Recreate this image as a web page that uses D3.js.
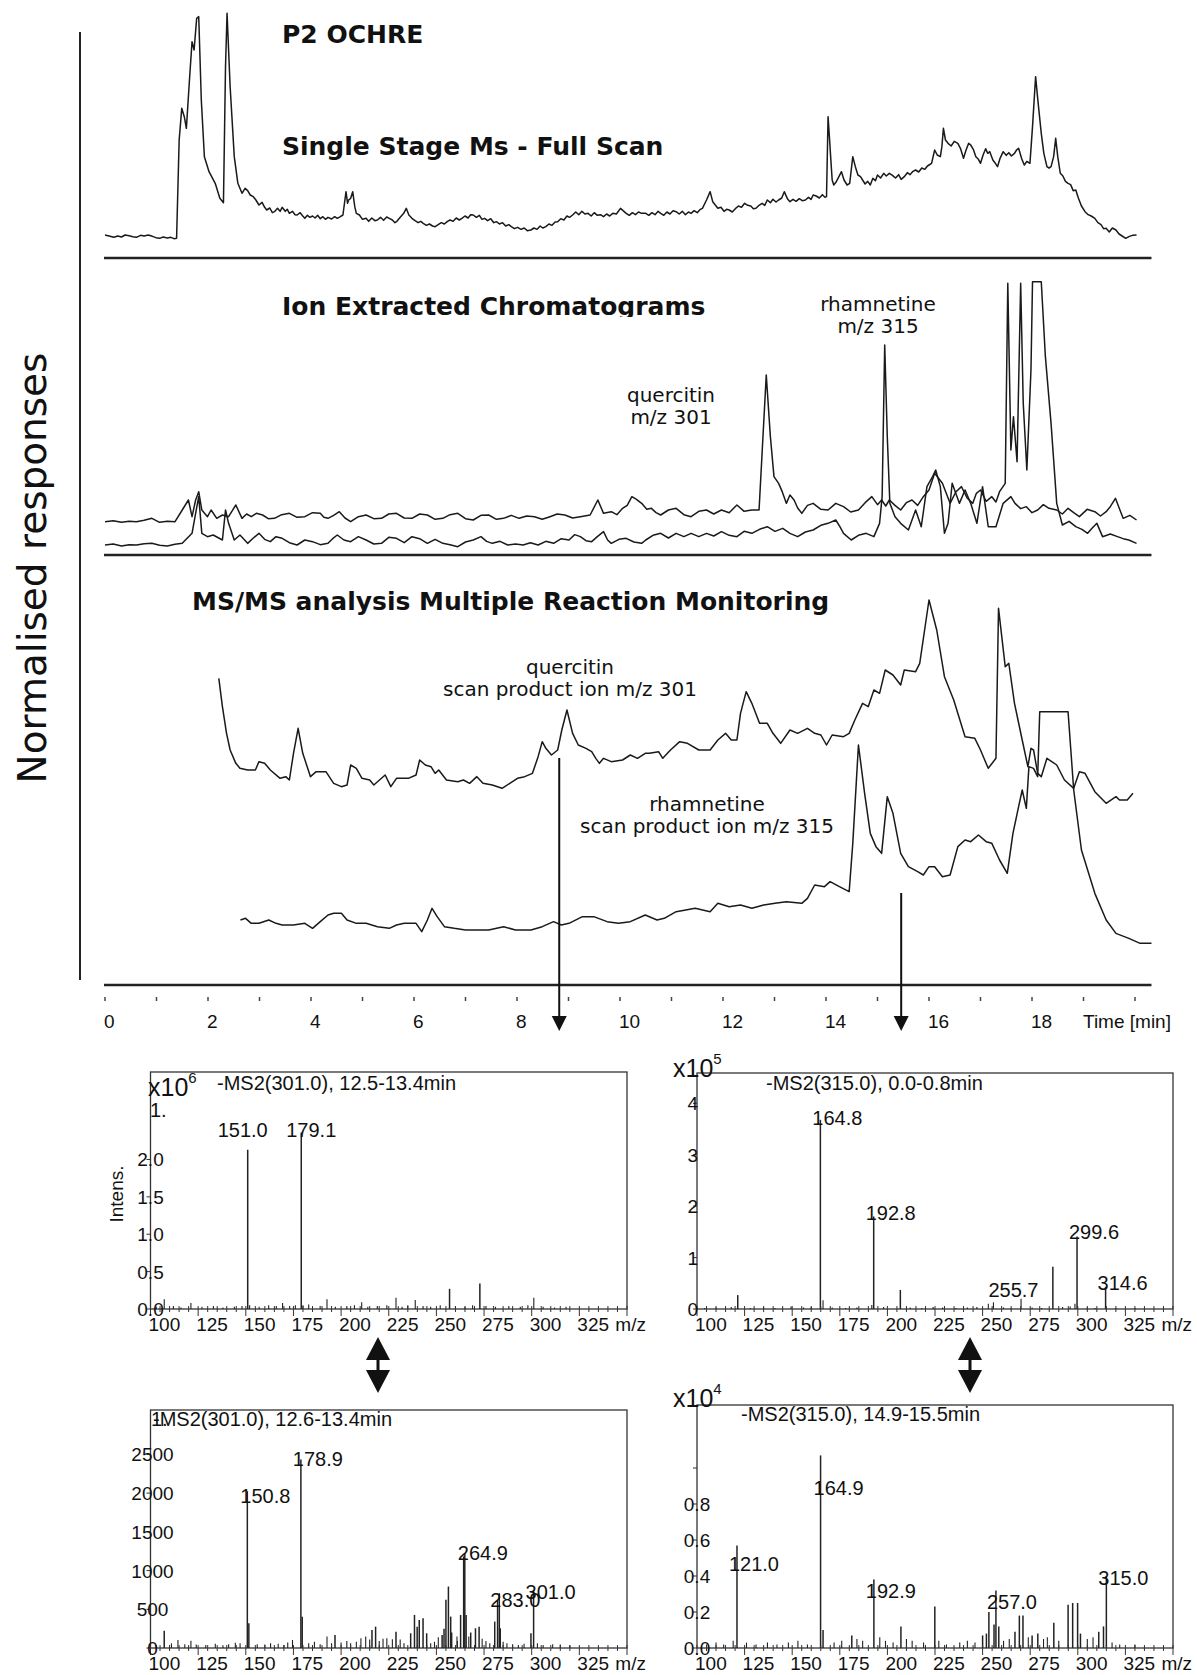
<!DOCTYPE html>
<html>
<head>
<meta charset="utf-8">
<script src="https://d3js.org/d3.v7.min.js"></script>
<style>
  body { margin: 0; background: #fff; }
  text { fill: #111; }
  .ttl { font-family: "DejaVu Sans", Verdana, sans-serif; font-weight: bold; font-size: 25px; }
  .ann { font-family: "DejaVu Sans", Verdana, sans-serif; font-size: 20px; }
  .big { font-family: "DejaVu Sans", Verdana, sans-serif; font-size: 39px; }
  .sp  { font-family: "Liberation Sans", Arial, sans-serif; font-size: 20px; }
  .ax  { font-family: "Liberation Sans", Arial, sans-serif; font-size: 19px; }
</style>
</head>
<body>
<script>
// ---- chromatograms: [time (min), normalised response] ----
const fullScan = [[0.0,7.5],[0.08,7.2],[0.17,6.8],[0.25,7.2],[0.32,6.9],[0.39,7.5],[0.47,7.3],[0.54,7.0],
  [0.61,6.8],[0.69,7.4],[0.76,7.2],[0.84,7.5],[0.92,7.1],[0.99,6.7],[1.06,6.5],[1.13,6.9],[1.21,6.6],
  [1.28,6.8],[1.34,6.4],[1.39,6.5],
  [1.44,36],[1.49,45.5],[1.54,43],[1.58,39.5],[1.64,54],[1.69,65.5],[1.73,63],[1.78,72.5],[1.82,73],
  [1.87,48],[1.93,31],[2.02,26.5],[2.14,23],[2.23,18.5],[2.30,17.2],[2.34,58],[2.37,74],[2.43,52],
  [2.51,31],[2.58,23],[2.66,20],[2.72,21.5],[2.77,20.8],[2.82,19.5],[2.88,19],[2.93,18],[2.99,16.5],
  [3.05,17.3],[3.10,15.8],[3.14,15],[3.20,15.6],[3.25,14.2],[3.29,14.5],[3.35,15.5],[3.40,14.6],
  [3.44,15.8],[3.50,14.6],[3.54,15.2],[3.58,14],[3.64,14.6],[3.69,13.6],[3.73,13.5],[3.79,14.2],
  [3.84,13.2],[3.88,12.5],[3.93,13.4],[3.98,12.8],[4.03,13.2],[4.08,12.6],[4.13,13.4],[4.18,12.4],
  [4.23,13],[4.28,12.2],[4.33,12.8],[4.40,12.3],[4.46,13],[4.51,12.5],[4.57,13],[4.62,13.5],[4.68,20.5],
  [4.71,17],[4.73,18],[4.77,18.5],[4.81,20.5],[4.85,16],[4.88,14],[4.94,13.5],[5.00,12.2],[5.07,12.5],
  [5.12,11.6],[5.18,12.6],[5.24,11.8],[5.29,12],[5.35,12.8],[5.41,11.9],[5.47,12.9],[5.52,12.5],
  [5.58,12],[5.63,11.2],[5.66,11.5],[5.72,12.6],[5.80,14],[5.85,15.5],[5.90,13.5],[5.96,12.5],
  [6.02,11.8],[6.08,11.2],[6.13,11.6],[6.18,11],[6.24,10.4],[6.30,10.8],[6.36,10.2],[6.41,10],
  [6.47,10.6],[6.53,11.2],[6.59,10.8],[6.65,11.6],[6.70,12],[6.76,11.6],[6.82,12.6],[6.88,12],
  [6.93,12.5],[6.99,13.2],[7.05,12.6],[7.10,13.6],[7.15,13.5],[7.21,12.8],[7.27,13.4],[7.32,12.2],
  [7.37,12.5],[7.43,11.8],[7.49,12.4],[7.55,11.2],[7.60,11.5],[7.66,10.8],[7.72,11.2],[7.78,10.2],
  [7.84,10.6],[7.89,10],[7.95,9.4],[8.01,9.8],[8.08,9.2],[8.14,9.6],[8.20,8.8],[8.27,9],[8.33,9.6],
  [8.39,9.2],[8.45,10.2],[8.50,9.6],[8.56,10],[8.62,10.8],[8.68,10.4],[8.74,11.4],[8.79,11.5],
  [8.85,12.4],[8.91,12],[8.97,13.2],[9.02,12.8],[9.08,13.5],[9.14,14.4],[9.20,13.6],[9.26,14.6],
  [9.32,13.8],[9.38,14],[9.44,13.2],[9.50,14.2],[9.56,13.4],[9.62,13.6],[9.68,13],[9.74,13.8],
  [9.80,13.2],[9.86,14],[9.93,13.8],[10.01,15.5],[10.06,14.8],[10.12,14],[10.18,13.4],[10.24,14.2],
  [10.30,13.6],[10.36,14.4],[10.42,14],[10.50,14],[10.56,13.4],[10.62,14.2],[10.68,13.6],[10.74,14.6],
  [10.79,14],[10.85,13.4],[10.91,14.4],[10.97,13.8],[11.03,14.8],[11.09,14.5],[11.15,13.8],[11.21,14.6],
  [11.27,13.6],[11.33,14.4],[11.38,14],[11.44,14.8],[11.50,14.2],[11.56,15.2],[11.60,15.5],[11.68,18],
  [11.75,20.5],[11.80,17.5],[11.85,16.5],[11.90,15.5],[11.96,15.8],[12.02,14.6],[12.07,15.2],[12.12,15],
  [12.18,14.4],[12.24,15.4],[12.30,16.2],[12.36,15.8],[12.42,17],[12.48,16.4],[12.54,16.2],[12.59,15.4],
  [12.64,15.5],[12.70,16.4],[12.76,17],[12.81,16.4],[12.86,18],[12.92,17.2],[12.97,18.2],[13.03,17.4],
  [13.08,18],[13.14,18.6],[13.19,20.5],[13.25,18.4],[13.30,17.5],[13.36,18.2],[13.42,17.6],[13.48,18.4],
  [13.54,17.8],[13.60,18],[13.66,18.8],[13.71,18.2],[13.75,19.5],[13.81,19.2],[13.87,18.6],[13.93,19.6],
  [13.98,18.8],[14.01,19],[14.04,43],[14.07,36],[14.09,31],[14.12,24],[14.15,22.5],[14.20,23.5],
  [14.25,25],[14.30,26.5],[14.35,24],[14.41,22.5],[14.46,23],[14.52,31],[14.57,28],[14.62,25.5],
  [14.67,25],[14.71,24],[14.76,22.8],[14.81,23.6],[14.86,22.5],[14.91,24.5],[14.96,23.8],[15.00,25.5],
  [15.06,24.6],[15.12,26],[15.17,25.2],[15.23,26],[15.29,25.4],[15.35,24.6],[15.41,25.6],[15.46,24.2],
  [15.52,25],[15.58,26.2],[15.63,25.6],[15.69,26.6],[15.74,27],[15.80,26.4],[15.86,27.6],[15.92,27.2],
  [15.97,28.2],[16.00,28.5],[16.05,29],[16.11,33],[16.16,31.5],[16.22,31],[16.25,34],[16.28,39.5],
  [16.32,36],[16.37,35],[16.43,34.2],[16.49,35.6],[16.56,35],[16.61,33.5],[16.67,30.5],[16.72,33],
  [16.77,35],[16.81,34.5],[16.86,33.2],[16.91,31],[16.96,30.2],[17.00,29],[17.05,31.5],[17.10,33.4],
  [17.14,32],[17.18,32.5],[17.24,30],[17.28,29.2],[17.33,28],[17.38,30.5],[17.44,32.5],[17.50,31.4],
  [17.55,32.2],[17.60,31.2],[17.66,32],[17.70,33],[17.74,33.5],[17.80,30.4],[17.85,28.5],[17.90,29.6],
  [17.96,29],[18.01,40],[18.07,55],[18.12,47],[18.18,38],[18.23,32],[18.29,28],[18.33,27.6],[18.37,28],
  [18.42,31],[18.46,36.5],[18.50,31],[18.55,26],[18.60,25.2],[18.65,23.6],[18.70,23],[18.75,22.6],
  [18.80,20.8],[18.85,21],[18.90,18.6],[18.96,16.2],[19.03,14.5],[19.09,13.6],[19.15,13.2],[19.22,12.5],
  [19.28,11.2],[19.34,10.6],[19.39,9.4],[19.44,9.5],[19.50,8.4],[19.56,9.6],[19.63,9],[19.69,7.8],
  [19.75,7.2],[19.82,6.5],[19.88,7],[19.95,7.4],[20.03,7.5]];

const eicQuercitin = [[0.0,11.5],[0.16,11.8],[0.32,11.3],[0.47,11.6],[0.61,11.5],[0.76,11.9],[0.91,12.5],
  [1.06,11.3],[1.21,11.6],[1.36,11.5],[1.50,15],[1.62,18],[1.69,13],[1.76,18],[1.82,20.5],[1.88,15],
  [1.99,13],[2.06,15],[2.17,12.5],[2.28,13.5],[2.40,13],[2.54,16.5],[2.66,12.5],[2.75,13.8],[2.84,13],
  [2.94,14],[3.06,13.5],[3.17,12.4],[3.29,12.5],[3.43,13.6],[3.58,14],[3.73,12.8],[3.88,13],[4.03,14.2],
  [4.18,14],[4.25,12.8],[4.33,12.5],[4.44,13.4],[4.55,14.5],[4.66,12.6],[4.77,11.5],[4.92,13],[5.07,13.5],
  [5.22,12.4],[5.37,12.5],[5.51,13.8],[5.66,14],[5.81,12.6],[5.96,12.5],[6.11,13.8],[6.26,13.5],
  [6.41,12.2],[6.56,12.5],[6.70,13.6],[6.85,14],[7.00,12.4],[7.15,12],[7.30,13.4],[7.45,13.5],[7.60,12.2],
  [7.74,12.5],[7.89,13.4],[8.04,12.5],[8.19,13.2],[8.34,13],[8.49,12.2],[8.64,13],[8.78,13.8],[8.93,13.5],
  [9.08,12.6],[9.23,13],[9.42,13.5],[9.57,18],[9.68,14],[9.83,14.5],[9.94,13.6],[10.05,15.5],[10.14,16.4],
  [10.23,19],[10.32,18.2],[10.42,17],[10.52,15.2],[10.61,15.5],[10.70,14.2],[10.79,13.5],[10.94,15],
  [11.09,15.5],[11.24,13.6],[11.38,13],[11.53,14.6],[11.68,15],[11.82,13.8],[11.97,15],[12.12,14.2],
  [12.27,16.5],[12.41,14.6],[12.56,15],[12.70,15],
  [12.84,55.5],[12.92,37],[12.99,25],[13.08,23],[13.15,20.5],[13.23,17],[13.30,19.5],[13.38,18],
  [13.45,15.6],[13.53,14],[13.64,16.4],[13.75,17],[13.90,15.2],[14.04,15],[14.19,17],[14.34,16],
  [14.48,14.4],[14.63,15],[14.76,17.2],[14.89,19],[15.00,16.6],[15.08,18],[15.16,16.2],[15.23,18],
  [15.34,16.4],[15.45,15],[15.56,17.2],[15.67,18],[15.78,16.4],[15.89,19],[16.00,21],[16.11,26],
  [16.26,23],[16.41,17],[16.52,20.4],[16.63,22],[16.74,18.6],[16.85,17],[16.92,20],[17.00,21],
  [17.11,17.6],[17.22,19],[17.30,17.4],[17.37,20.5],[17.48,23],[17.53,83],
  [17.59,33],[17.64,43],[17.71,29.5],[17.78,83],[17.83,47],[17.90,27],[17.98,57],[18.01,83.5],
  [18.18,83.5],[18.26,61],[18.37,41],[18.48,17],[18.59,10.5],[18.72,11.6],[18.85,10],[18.97,9.2],
  [19.08,8],[19.17,9.6],[19.26,11],[19.37,7],[19.52,7.8],[19.66,7],[19.77,6.4],[19.88,6],[20.03,5]];

const eicRhamnetine = [[0.0,4.5],[0.16,4.8],[0.32,4.2],[0.47,4.6],[0.61,4.5],[0.76,4.9],[0.91,5],[1.06,4.4],
  [1.21,4.2],[1.36,4.7],[1.50,5],[1.69,8],[1.76,14],
  [1.82,19],[1.88,8],[1.99,7],[2.10,7.5],[2.28,6],[2.34,15],[2.40,11],[2.51,6],[2.62,7.5],[2.77,5],
  [2.88,6.6],[2.99,8],[3.10,6.2],[3.21,5.5],[3.32,7],[3.44,6.5],[3.58,5.2],[3.73,4.5],[3.88,6],[4.03,5.5],
  [4.18,4.6],[4.33,5],[4.42,6.4],[4.51,7.5],[4.64,6],[4.77,5.5],[4.92,7],[5.07,6],[5.22,4.8],[5.37,5],
  [5.51,6.8],[5.66,6.5],[5.81,5.2],[5.96,7],[6.11,6.4],[6.26,5],[6.41,6.2],[6.56,5],[6.70,4.6],[6.85,4],
  [7.00,5.4],[7.15,6],[7.30,7],[7.41,5.6],[7.52,5],[7.67,5.6],[7.82,4.5],[7.97,4.8],[8.12,4.5],[8.26,5.2],
  [8.41,4.5],[8.56,5.6],[8.71,5],[8.86,6.4],[9.01,6],[9.12,7.6],[9.23,7],[9.34,5.8],[9.45,5.5],[9.56,7],
  [9.68,8.5],[9.76,6],[9.83,5],[9.98,6.2],[10.12,6.5],[10.27,5.4],[10.42,5],[10.50,6],[10.64,7.4],
  [10.79,8],[10.94,6.6],[11.09,8],[11.24,7],[11.38,8],[11.53,7],[11.68,8],[11.82,7.2],[11.97,8.5],
  [12.12,7.4],[12.27,7],[12.41,8.6],[12.56,8],[12.71,9.2],[12.86,10],[13.01,8.6],[13.16,9.5],[13.30,8],
  [13.45,7],[13.60,8.4],[13.75,9],[13.90,10.4],[14.04,11],[14.19,12],[14.27,10],[14.34,8],[14.49,6],
  [14.63,7.4],[14.78,8],[14.93,7],[15.04,11],
  [15.09,19],[15.14,64.5],[15.19,37],[15.24,17],[15.34,13],[15.45,11],[15.60,9],[15.74,15],[15.85,10],
  [15.96,22],[16.07,25],[16.13,27],[16.22,22],[16.30,8],[16.37,11],[16.45,23],[16.59,17],[16.70,21],
  [16.81,17],[16.93,11],[17.04,22],[17.15,10],[17.30,10],[17.44,17],[17.59,19],[17.67,17],[17.78,15.4],
  [17.89,16],[18.00,14.2],[18.11,15],[18.22,16.6],[18.33,15.5],[18.48,15],[18.59,13.8],[18.70,15.5],
  [18.81,14.2],[18.92,13],[19.07,15.2],[19.22,14.5],[19.33,13.2],[19.44,14.5],[19.52,16],[19.62,18.5],
  [19.77,12.5],[19.90,13.4],[20.03,12]];

const mrmQuercitin = [[2.21,93.5],[2.28,85],[2.36,77],[2.43,72],[2.54,68],[2.62,66.5],[2.77,66],[2.92,66],
  [2.99,68.5],[3.10,68],[3.21,66],[3.40,63.5],[3.51,64],[3.58,63],[3.66,71],[3.75,78.5],[3.84,71],
  [3.99,64],[4.10,65.5],[4.29,65.5],[4.44,62],[4.59,61],[4.70,61.5],[4.77,67.5],[4.88,66.5],[4.99,63.5],
  [5.14,63],[5.22,61.5],[5.33,63],[5.44,64.5],[5.55,61],[5.66,63.5],[5.89,63.5],[6.04,64.5],[6.11,69],
  [6.22,67.5],[6.33,67],[6.41,65],[6.48,66],[6.63,63],[6.85,62.5],[6.96,63],[7.08,62],[7.22,64],
  [7.34,62],[7.52,61.5],[7.71,60.5],[7.86,62],[8.01,63.5],[8.15,64],[8.30,65],[8.41,70],[8.49,74.5],
  [8.56,72.5],[8.67,70.5],[8.79,72],[8.87,78],[8.97,84],[9.08,77],[9.19,73.5],[9.34,72.5],[9.45,71.5],
  [9.53,69.5],[9.60,68],[9.68,69.5],[9.83,68.5],[10.05,69],[10.20,70.5],[10.34,69.5],[10.49,71],
  [10.57,71],[10.75,71.5],[10.83,69.5],[10.98,72],[11.16,74.5],[11.31,74],[11.53,72],[11.75,72],
  [11.90,75],[12.05,77],[12.16,75],[12.27,75],[12.34,83],[12.45,89.5],[12.56,86],[12.71,80],[12.86,80],
  [12.97,77],[13.12,74],[13.30,78],[13.45,77],[13.64,78.5],[13.78,77],[13.90,76.5],[14.01,73.5],
  [14.12,76.5],[14.34,76],[14.45,77],[14.56,81],[14.71,86],[14.82,85],[14.93,90],[15.04,89],[15.15,96],
  [15.30,94.5],[15.45,91.5],[15.52,96],[15.74,95.5],[15.82,98],[16.00,117],[16.15,108],[16.30,94],
  [16.48,87],[16.70,76],[16.89,75.5],[17.00,72],[17.15,66.5],[17.30,69.5],[17.35,114.5],[17.48,97],
  [17.55,98],[17.66,86],[17.81,75],[17.92,67],[17.98,72.5],[18.03,72],[18.11,65],[18.18,64],[18.29,69.5],
  [18.48,67.5],[18.63,63],[18.81,60.5],[18.92,65.5],[19.03,65],[19.22,59.5],[19.44,56],[19.63,58],
  [19.70,57],[19.85,57],[19.96,59]];

const mrmRhamnetine = [[2.63,21],[2.73,21.5],[2.84,20],[2.99,20],[3.18,21],[3.32,20],[3.44,19.5],[3.66,19.5],
  [3.88,20],[4.03,18.5],[4.18,20.5],[4.33,22.5],[4.44,23],[4.59,23],[4.70,21],[4.88,20],[5.07,20],
  [5.29,19],[5.52,18.5],[5.66,19.5],[5.81,20],[6.04,20],[6.15,17.5],[6.26,21],[6.35,24.5],[6.45,22],
  [6.59,19],[6.78,18.5],[7.00,18],[7.22,18],[7.45,18],[7.74,19],[7.97,18],[8.27,18],[8.49,19],[8.71,20.5],
  [8.86,19.5],[9.01,20],[9.27,22],[9.49,22],[9.75,20.5],[9.97,20],[10.20,20.5],[10.49,22.5],[10.72,21],
  [10.86,21.5],[11.09,23.5],[11.46,24.5],[11.75,23.5],[11.90,26],[12.12,25],[12.34,25.5],[12.56,24.5],
  [12.79,25.5],[13.01,26],[13.23,26.5],[13.53,26],[13.64,27.5],[13.78,31.5],[13.97,31],[14.08,32.5],
  [14.26,31],[14.45,29.5],[14.52,44],[14.63,73.5],[14.75,59],[14.86,47],[14.97,43],[15.08,41],[15.19,58],
  [15.30,53],[15.45,41],[15.60,37],[15.78,35.5],[15.89,34.5],[16.00,37],[16.11,37],[16.26,34],
  [16.41,34.5],[16.56,43],[16.70,45],[16.81,44.5],[16.96,46.5],[17.11,44.5],[17.22,44],[17.37,39],
  [17.52,35],[17.63,47],[17.74,55],[17.81,60],[17.89,54.5],[17.94,67],[18.03,66.5],[18.11,64],
  [18.15,83.5],[18.70,83.5],[18.81,60],[18.96,42],[19.22,29],[19.44,21],[19.63,17],[19.88,15.5],
  [20.10,14],[20.32,14]];

const timeMinorTicks = [0,1,2,3,4,5,6,7,8,9,10,11,12,13,14,15,16,17,18,19,20];
const timeLabels = [0,2,4,6,8,10,12,14,16,18];
const arrowTimes = [8.82, 15.46];

// ---- MS2 spectra: [m/z, intensity] ----
const mzLabels = [100,125,150,175,200,225,250,275,300,325];

const spec1Peaks = [[151.0,2.13],[179.1,2.36],[107.2,0.13],[121.2,0.08],[169.3,0.08],[192.6,0.13],
  [210.8,0.09],[228.8,0.15],[238.9,0.12],[256.9,0.27],[272.8,0.34],[301.1,0.15],[152.0,0.05],[180.0,0.05],
  [103,0.03],[112,0.04],[116,0.02],[127,0.03],[133,0.04],[138,0.02],[144,0.03],[148,0.04],[157,0.03],
  [162,0.05],[166,0.04],[173,0.04],[176,0.05],[183,0.06],[189,0.04],[197,0.03],[203,0.04],[207,0.05],
  [214,0.03],[219,0.04],[224,0.05],[232,0.03],[235,0.05],[243,0.04],[247,0.03],[252,0.05],[260,0.04],
  [265,0.03],[269,0.05],[276,0.04],[281,0.03],[288,0.04],[294,0.03],[298,0.05],[306,0.03],[312,0.02],[318,0.03]];
const spec1Labelled = [151.0, 179.1];

const spec2Peaks = [[164.8,3.68],[192.8,1.80],[299.6,1.41],[314.6,0.43],[255.7,0.13],[121.4,0.27],
  [206.8,0.37],[286.9,0.82],[270.2,0.20],[166.2,0.17],[149.4,0.05],[191.8,0.08],[298.5,0.10],[253.0,0.10],
  [104,0.02],[110,0.03],[118,0.04],[128,0.02],[135,0.03],[141,0.02],[156,0.03],[160,0.04],[171,0.03],
  [178,0.02],[184,0.03],[198,0.04],[212,0.03],[218,0.02],[224,0.04],[229,0.03],[236,0.02],[242,0.03],
  [247,0.04],[261,0.03],[265,0.02],[276,0.03],[281,0.02],[292,0.04],[296,0.05],[305,0.03],[309,0.02],
  [320,0.02],[330,0.02]];
const spec2Labelled = [164.8, 192.8, 255.7, 299.6, 314.6];

const spec3Peaks = [[150.8,2025],[178.9,2435],[264.9,1227],[283.0,708],[301.0,751],[151.6,320],[179.6,405],
  [107.2,224],[236.5,190],[238.5,427],[239.9,276],[241.0,363],[243.0,384],[244.9,190],[253.0,168],
  [255.0,622],[256.3,794],[257.5,406],[260.8,147],[262.7,427],[264.3,1183],[265.6,427],[270.5,255],
  [272.4,276],[280.6,341],[282.1,622],[283.5,255],[299.6,190],[218.1,276],[216.2,233],[212.9,147],
  [228.8,211],[196.8,168],[192.6,147],[174.5,104],[121.2,95],[114.4,104],[144.5,69],[210.4,125],
  [224.0,125],[226.9,112],
  [103,40],[111,60],[118,50],[124,45],[129,40],[134,55],[138,35],[141,50],[147,60],[156,50],[160,45],
  [163,60],[167,55],[170,40],[172,70],[183,60],[186,80],[189,50],[195,60],[200,70],[203,90],[205,60],
  [208,80],[215,110],[220,90],[222,120],[231,110],[233,60],[247,60],[249,80],[251,140],[254,250],
  [258,200],[261,90],[267,150],[268,200],[274,120],[276,90],[278,60],[285,80],[287,60],[290,50],
  [293,40],[296,55],[303,60],[306,40],[311,50],[315,45],[320,35]];
const spec3Labelled = [150.8, 178.9, 264.9, 283.0, 301.0];

const spec4Peaks = [[121.0,0.57],[164.9,1.07],[192.9,0.38],[257.0,0.32],[315.0,0.40],[224.9,0.23],
  [207.1,0.12],[253.3,0.20],[256.0,0.13],[269.3,0.18],[271.2,0.18],[279.0,0.08],[287.4,0.14],[294.9,0.24],
  [297.3,0.25],[299.9,0.25],[301.4,0.08],[166.2,0.10],[181.3,0.07],[252.0,0.08],[313.5,0.12],[258.5,0.12],
  [105,0.02],[110,0.03],[114,0.02],[119,0.04],[126,0.03],[131,0.02],[137,0.03],[142,0.02],[148,0.03],
  [153,0.04],[158,0.02],[172,0.03],[176,0.04],[184,0.05],[187,0.04],[196,0.06],[199,0.04],[203,0.03],
  [210,0.05],[213,0.04],[219,0.03],[227,0.04],[231,0.02],[238,0.03],[242,0.04],[246,0.03],[250,0.07],
  [261,0.04],[264,0.05],[267,0.09],[274,0.06],[276,0.07],[282,0.05],[284,0.06],[290,0.04],[305,0.05],
  [308,0.06],[311,0.09],[318,0.03],[322,0.02],[330,0.02]];
const spec4Labelled = [121.0, 164.9, 192.9, 257.0, 315.0];

const spec1YTicks = ["0.0","0.5","1.0","1.5","2.0"];
const spec2YTicks = ["0","1","2","3","4"];
const spec3YTicks = ["0","500","1000","1500","2000","2500"];
const spec4YTicks = ["0.0","0.2","0.4","0.6","0.8"];

// ---- drawing ----
const W = 1197, H = 1675;
const svg = d3.select("body").append("svg").attr("width", W).attr("height", H);

const x = d3.scaleLinear().domain([0, 20]).range([105, 1135]);
const yFull = d3.scaleLinear().domain([0, 75]).range([260, 10]);
const yEic = d3.scaleLinear().domain([0, 90]).range([560, 260]);
const yMrm = d3.scaleLinear().domain([0, 120]).range([990, 590]);

function trace(data, y) {
  svg.append("path").datum(data)
    .attr("fill", "none").attr("stroke", "#1a1a1a").attr("stroke-width", 1.5)
    .attr("stroke-linejoin", "round")
    .attr("d", d3.line().x(d => x(d[0])).y(d => y(d[1])));
}

// left axis + panel baselines
svg.append("line").attr("x1", 80).attr("x2", 80).attr("y1", 32).attr("y2", 980)
  .attr("stroke", "#222").attr("stroke-width", 2);
[[yFull, 0.6], [yEic, 1.5], [yMrm, 1.5]].forEach(([y, v]) => {
  svg.append("line").attr("x1", x(0) - 1).attr("x2", x(20.32))
    .attr("y1", y(v)).attr("y2", y(v)).attr("stroke", "#222").attr("stroke-width", 2.5);
});

svg.append("text").attr("class", "big").attr("text-anchor", "middle")
  .attr("transform", "translate(46,568) rotate(-90)").text("Normalised responses");

// titles
svg.append("text").attr("class", "ttl").attr("x", 282).attr("y", 43).text("P2 OCHRE");
svg.append("text").attr("class", "ttl").attr("x", 282).attr("y", 155).text("Single Stage Ms - Full Scan");
svg.append("clipPath").attr("id", "cut").append("rect").attr("x", 0).attr("y", 0).attr("width", W).attr("height", 317);
svg.append("text").attr("class", "ttl").attr("x", 282).attr("y", 315).attr("clip-path", "url(#cut)")
  .text("Ion Extracted Chromatograms");
svg.append("text").attr("class", "ttl").attr("x", 192).attr("y", 610).text("MS/MS analysis Multiple Reaction Monitoring");

trace(fullScan, yFull);
trace(eicQuercitin, yEic);
trace(eicRhamnetine, yEic);
trace(mrmQuercitin, yMrm);
trace(mrmRhamnetine, yMrm);

function twoLine(cx, y1, lines) {
  const t = svg.append("text").attr("class", "ann").attr("text-anchor", "middle");
  lines.forEach((s, i) => t.append("tspan").attr("x", cx).attr("y", y1 + i * 22).text(s));
}
twoLine(878, 311, ["rhamnetine", "m/z 315"]);
twoLine(671, 402, ["quercitin", "m/z 301"]);
twoLine(570, 674, ["quercitin", "scan product ion m/z 301"]);
twoLine(707, 811, ["rhamnetine", "scan product ion m/z 315"]);

// time axis
svg.selectAll("line.tt").data(timeMinorTicks).join("line").attr("class", "tt")
  .attr("x1", d => x(d)).attr("x2", d => x(d)).attr("y1", 997).attr("y2", 1001)
  .attr("stroke", "#444").attr("stroke-width", 1.5);
svg.selectAll("text.tl").data(timeLabels).join("text").attr("class", "ax tl")
  .attr("x", d => x(d) - 1).attr("y", 1028).text(d => d);
svg.append("text").attr("class", "ax").attr("x", 1083).attr("y", 1028).text("Time [min]");

// arrows from chromatogram to spectra
const arrowTop = [758, 893];
arrowTimes.forEach((t, i) => {
  const ax = x(t);
  svg.append("line").attr("x1", ax).attr("x2", ax).attr("y1", arrowTop[i]).attr("y2", 1018)
    .attr("stroke", "#111").attr("stroke-width", 2);
  svg.append("path").attr("d", `M${ax - 7.5},1016 L${ax + 7.5},1016 L${ax},1031 Z`).attr("fill", "#111");
});

// spectra
const panels = [
  { peaks: spec1Peaks, lab: spec1Labelled, ticks: spec1YTicks, tickVals: [0,0.5,1,1.5,2],
    left: 150.5, right: 627, top: 1072, base: 1309, yMax: 3.17, tickAnchor: "middle", tickDx: 0,
    labelLevel: [2.40, 2.40], labelDx: [-5, 10], mag: "6", magX: 148, magY: 1096,
    title: "-MS2(301.0), 12.5-13.4min", titleX: 217, titleY: 1090, stray: [150, 1117] },
  { peaks: spec2Peaks, lab: spec2Labelled, ticks: spec2YTicks, tickVals: [0,1,2,3,4],
    left: 697, right: 1173, top: 1073, base: 1309, yMax: 4.59, tickAnchor: "end", tickDx: 1,
    labelLevel: [3.72, 1.87, 0.37, 1.50, 0.51], labelDx: [17,17,20,17,17], mag: "5", magX: 673, magY: 1077,
    title: "-MS2(315.0), 0.0-0.8min", titleX: 766, titleY: 1090 },
  { peaks: spec3Peaks, lab: spec3Labelled, ticks: spec3YTicks, tickVals: [0,500,1000,1500,2000,2500],
    left: 150.5, right: 627, top: 1410, base: 1648, yMax: 3074, tickAnchor: "middle", tickDx: 2,
    labelLevel: [1960, 2435, 1231, 622, 729], labelDx: [18,17,18,16,17],
    title: "-MS2(301.0), 12.6-13.4min", titleX: 153, titleY: 1426, stray: [151, 1426] },
  { peaks: spec4Peaks, lab: spec4Labelled, ticks: spec4YTicks, tickVals: [0,0.2,0.4,0.6,0.8], extraTick: 1.0,
    left: 697, right: 1173, top: 1405, base: 1648, yMax: 1.35, tickAnchor: "middle", tickDx: 0,
    labelLevel: [0.467, 0.889, 0.317, 0.257, 0.389], labelDx: [17,18,17,16,17], mag: "4", magX: 673, magY: 1407,
    title: "-MS2(315.0), 14.9-15.5min", titleX: 741, titleY: 1421 }
];

panels.forEach(p => {
  const g = svg.append("g");
  const sx = d3.scaleLinear().domain([100, 350]).range([p.left, p.right]);
  const sy = d3.scaleLinear().domain([0, p.yMax]).range([p.base, p.top]);

  g.append("rect").attr("x", p.left).attr("y", p.top).attr("width", p.right - p.left)
    .attr("height", p.base - p.top).attr("fill", "none").attr("stroke", "#333").attr("stroke-width", 1.3);

  g.selectAll("line.pk").data(p.peaks).join("line")
    .attr("x1", d => sx(d[0])).attr("x2", d => sx(d[0]))
    .attr("y1", sy(0)).attr("y2", d => sy(d[1]))
    .attr("stroke", "#222").attr("stroke-width", d => d[1] > p.yMax * 0.05 ? 1.5 : 1.1);

  // x axis ticks
  const minor = d3.range(100, 351, 5);
  g.selectAll("line.mt").data(minor).join("line")
    .attr("x1", d => sx(d)).attr("x2", d => sx(d)).attr("y1", p.base - 3)
    .attr("y2", d => p.base + (d % 25 === 0 ? 7 : 3)).attr("stroke", "#333").attr("stroke-width", 1);
  g.selectAll("text.mz").data(mzLabels).join("text").attr("class", "ax")
    .attr("x", d => sx(d) - 2).attr("y", p.base + 22).text(d => d);
  g.append("text").attr("class", "ax").attr("x", sx(325) + 36).attr("y", p.base + 22).text("m/z");

  // y axis ticks + labels
  g.selectAll("line.yt").data(p.tickVals.concat(p.extraTick ? [p.extraTick] : [])).join("line")
    .attr("x1", p.left - 4).attr("x2", p.left).attr("y1", d => sy(d)).attr("y2", d => sy(d))
    .attr("stroke", "#333").attr("stroke-width", 1);
  g.selectAll("text.yl").data(p.ticks).join("text").attr("class", "ax")
    .attr("text-anchor", p.tickAnchor).attr("x", p.left + p.tickDx)
    .attr("y", (d, i) => sy(p.tickVals[i]) + 7).text(d => d);

  // peak labels
  g.selectAll("text.pl").data(p.lab).join("text").attr("class", "sp").attr("text-anchor", "middle")
    .attr("x", (d, i) => sx(d) + p.labelDx[i]).attr("y", (d, i) => sy(p.labelLevel[i]) + 7)
    .text(d => d.toFixed(1));

  g.append("text").attr("class", "sp").attr("x", p.titleX).attr("y", p.titleY).text(p.title);
  if (p.stray) g.append("text").attr("class", "sp").attr("x", p.stray[0]).attr("y", p.stray[1]).text("1.");
  if (p.mag) {
    const m = g.append("text").attr("class", "sp").attr("x", p.magX).attr("y", p.magY).style("font-size", "25px");
    m.append("tspan").text("x10");
    m.append("tspan").attr("dy", -13).style("font-size", "15px").text(p.mag);
  }
});

svg.append("text").attr("class", "ax").attr("text-anchor", "middle")
  .attr("transform", "translate(123,1194) rotate(-90)").text("Intens.");

// double arrows between spectra
[378, 970].forEach(ax => {
  svg.append("path").attr("d", `M${ax},1337 L${ax + 12},1360 L${ax - 12},1360 Z`).attr("fill", "#111");
  svg.append("rect").attr("x", ax - 1.5).attr("y", 1358).attr("width", 3).attr("height", 14).attr("fill", "#111");
  svg.append("path").attr("d", `M${ax - 12},1370 L${ax + 12},1370 L${ax},1393 Z`).attr("fill", "#111");
});
</script>
</body>
</html>
